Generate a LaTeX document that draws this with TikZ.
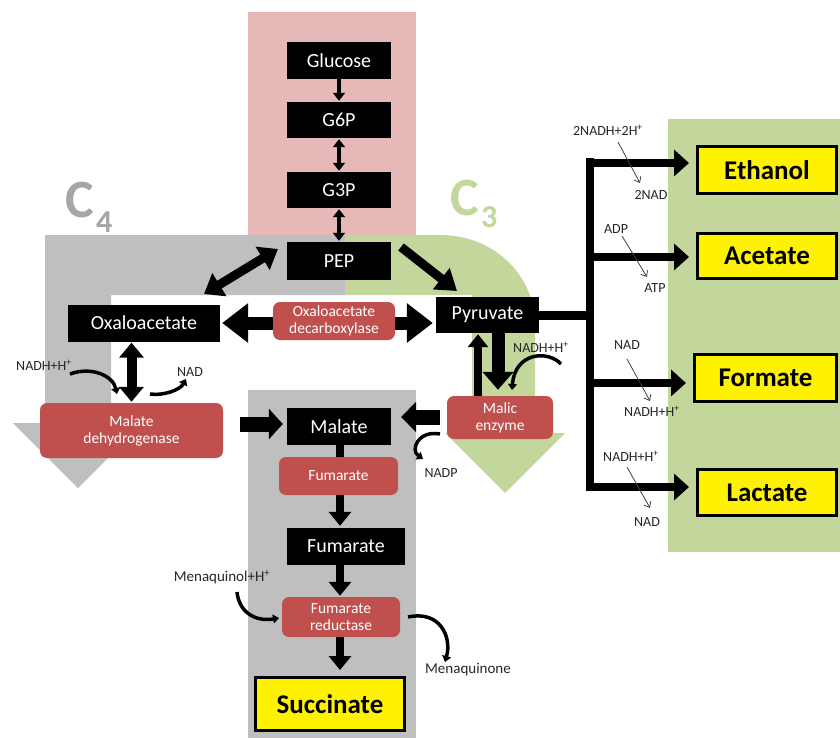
\documentclass[tikz,border=0pt]{standalone}
\usepackage{fontspec}
\setmainfont{Carlito}
\usetikzlibrary{arrows.meta,calc}
\definecolor{pinkbg}{HTML}{E6B9B8}
\definecolor{graybg}{HTML}{BFBFBF}
\definecolor{greenbg}{HTML}{C3D69B}
\definecolor{enzred}{HTML}{C0504D}
\definecolor{cfour}{HTML}{A6A6A6}
\definecolor{cofc}{HTML}{262626}
\definecolor{thinc}{HTML}{404040}
\newcommand\myfs[1]{\fontsize{#1}{#1}\selectfont}
\pgfdeclarelayer{bglayer}
\pgfdeclarelayer{arrlayer}
\pgfsetlayers{bglayer,arrlayer,main}
\begin{document}
\begin{tikzpicture}[x=1pt,y=-1pt,
  blk/.style={fill=black,text=white,font=\myfs{20},inner sep=0pt,minimum height=37pt},
  enz/.style={fill=enzred,text=white,rounded corners=7pt,font=\fontsize{15.5}{17}\selectfont,align=center,inner sep=0pt},
  prod/.style={fill=yellow,draw=black,line width=3pt,font=\bfseries\myfs{27},inner sep=0pt,minimum width=139pt,minimum height=47pt},
  cof/.style={font=\myfs{14},text=cofc,inner sep=0pt},
  thinarr/.style={draw=thinc,line width=0.8pt,-{Straight Barb[length=5pt,width=8pt]}},
  curv/.style={line width=3.5pt,-{Triangle[length=6pt,width=9pt]}},
  smarr/.style={line width=3.5pt},
  branch/.style={line width=8pt,-{Triangle[width=26pt,length=15pt]},shorten >=7pt},
  colarr/.style={line width=8pt,-{Triangle[width=22pt,length=14pt]}},
  bigc/.style={anchor=base west,inner sep=0pt,font=\bfseries\myfs{54}},
  bign/.style={anchor=base west,inner sep=0pt,font=\bfseries\myfs{32}}
]
\useasboundingbox (0,0) rectangle (840,738);

% ---------- backgrounds ----------
\begin{pgfonlayer}{bglayer}
\fill[pinkbg] (248,12) rectangle (416,235);
\fill[graybg] (45,235) -- (345,235) -- (345,295) -- (111,295) -- (111,423) -- (143,423) -- (78,488) -- (13,423) -- (45,423) -- cycle;
\fill[greenbg] (345,235) -- (440,235) .. controls (494,235) and (535,275) .. (535,325) -- (535,433) -- (565,433) -- (505,493) -- (445,433) -- (472,433) -- (472,295) -- (345,295) -- cycle;
\fill[graybg] (248,390) rectangle (416,738);
\fill[greenbg] (668,119) rectangle (840,552);
\node[bigc,text=cfour] (cfourC) at (65,217) {C};
\node[bign,text=cfour] (cfourN) at (96,232) {4};
\node[bigc,text=greenbg] (cthreeC) at (450,215) {C};
\node[bign,text=greenbg] (cthreeN) at (481,227) {3};
\end{pgfonlayer}

% ---------- nodes ----------
\node[blk,minimum width=104pt] (glc) at (339,60.5) {Glucose};
\node[blk,minimum width=104pt,minimum height=36pt] (g6p) at (339,120) {G6P};
\node[blk,minimum width=104pt,minimum height=36pt] (g3p) at (339,190) {G3P};
\node[blk,minimum width=104pt,minimum height=38pt] (pep) at (339,261) {PEP};
\node[blk,minimum width=152pt] (oaa) at (144,323) {Oxaloacetate};
\node[enz,minimum width=122pt,minimum height=38pt] (oad) at (334,321) {Oxaloacetate\\decarboxylase};
\node[blk,minimum width=103pt,minimum height=36pt] (pyr) at (487.5,315) {Pyruvate};
\node[enz,minimum width=183pt,minimum height=55pt] (mdh) at (131.5,430.5) {Malate\\dehydrogenase};
\node[blk,minimum width=104pt] (mal) at (339,426.5) {Malate};
\node[enz,minimum width=106pt,minimum height=43pt] (me) at (500,417.5) {Malic\\enzyme};
\node[enz,minimum width=119pt,minimum height=38pt] (fum1) at (338.5,476) {Fumarate};
\node[blk,minimum width=118pt] (fum2) at (346,546.5) {Fumarate};
\node[enz,minimum width=118pt,minimum height=40pt] (frd) at (341,617) {Fumarate\\reductase};
\node[prod,minimum width=149pt,minimum height=53pt] (suc) at (330,704) {Succinate};
\node[prod] (eth) at (767,170) {Ethanol};
\node[prod,minimum height=45pt] (ace) at (767,256) {Acetate};
\node[prod,minimum width=142pt] (form) at (765.5,378) {Formate};
\node[prod,minimum height=46pt] (lac) at (767,492.5) {Lactate};

% cofactor labels
\node[cof] (nadhL) at (44,365) {NADH+H\textsuperscript{+}};
\node[cof] (nadL) at (190,372) {NAD};
\node[cof] (nadhM) at (541,347) {NADH+H\textsuperscript{+}};
\node[cof] (nadp) at (441,473) {NADP};
\node[cof,font=\myfs{15}] (mqol) at (222,577) {Menaquinol+H\textsuperscript{+}};
\node[cof,font=\myfs{15}] (mqone) at (468,670) {Menaquinone};
\node[cof] (nadh2) at (608,130) {2NADH+2H\textsuperscript{+}};
\node[cof] (nad2) at (651,195) {2NAD};
\node[cof] (adp) at (616,229) {ADP};
\node[cof] (atp) at (655,288) {ATP};
\node[cof] (nadF) at (627,345) {NAD};
\node[cof] (nadhF) at (652,411) {NADH+H\textsuperscript{+}};
\node[cof] (nadhLa) at (631,456) {NADH+H\textsuperscript{+}};
\node[cof] (nadLa) at (647,522) {NAD};

% ---------- connectors ----------
\begin{pgfonlayer}{arrlayer}
\draw[smarr,-{Triangle[width=12pt,length=8pt]},shorten >=1pt] (glc.south) -- (g6p.north);
\draw[smarr,{Triangle[width=12pt,length=8pt]}-{Triangle[width=12pt,length=8pt]},shorten <=1pt,shorten >=1pt] (g6p.south) -- (g3p.north);
\draw[smarr,{Triangle[width=12pt,length=8pt]}-{Triangle[width=12pt,length=8pt]},shorten <=1pt,shorten >=1pt] (g3p.south) -- (pep.north);

\coordinate (pepA) at (278,249);
\coordinate (oaaA) at (204,294);
\draw[line width=9pt,{Triangle[width=26pt,length=18pt]}-{Triangle[width=26pt,length=18pt]}] (pepA) -- (oaaA);
\coordinate (pepB) at (401,247);
\coordinate (pyrB) at (457,291);
\draw[line width=9pt,-{Triangle[width=26pt,length=20pt]}] (pepB) -- (pyrB);

\draw[line width=13pt,{Triangle[width=38pt,length=26pt]}-{Triangle[width=38pt,length=26pt]},shorten <=2pt,shorten >=3pt] (oaa.east) -- (oaa.east -| pyr.west);

\draw[line width=10pt,{Triangle[width=24pt,length=15pt]}-{Triangle[width=24pt,length=15pt]},shorten <=1pt,shorten >=1pt] (mdh.north |- oaa.south) -- (mdh.north);

\coordinate (mdhR) at (240,424);
\draw[line width=15pt,-{Triangle[width=30pt,length=14pt]},shorten >=4pt] (mdhR) -- (mdhR -| mal.west);
\coordinate (meL) at (440,417);
\draw[line width=15pt,-{Triangle[width=30pt,length=15pt]},shorten >=10pt] (meL) -- (meL -| mal.east);

\coordinate (dnx) at (498,0);
\coordinate (upx) at (478,0);
\draw[line width=13pt,-{Triangle[width=30pt,length=18pt]},shorten >=6pt] (pyr.south -| dnx) -- (me.north -| dnx);
\draw[line width=8pt,-{Triangle[width=20pt,length=13pt]},shorten >=1pt] (me.north -| upx) -- (pyr.south -| upx);

\coordinate (colx) at (340,0);
\draw[colarr,shorten >=2pt] (mal.south -| colx) -- (fum2.north -| colx);
\draw[colarr,shorten >=1pt] (fum2.south -| colx) -- (frd.north -| colx);
\draw[colarr,shorten >=6pt] (frd.south -| colx) -- (suc.north -| colx);

% pyruvate branches
\coordinate (J) at (594,0);
\draw[line width=9pt] (pyr.east) -- (pyr.east -| J);
\coordinate (vt) at (590,158);
\coordinate (vb) at (590,491);
\draw[line width=8pt] (vt) -- (vb);
\coordinate (bE) at (586,163);
\coordinate (bA) at (586,257);
\coordinate (bF) at (586,383);
\coordinate (bL) at (586,487);
\draw[branch] (bE) -- (bE -| eth.west);
\draw[branch] (bA) -- (bA -| ace.west);
\draw[branch] (bF) -- (bF -| form.west);
\draw[branch] (bL) -- (bL -| lac.west);

% thin cofactor arrows
\coordinate (t1a) at (618,142); \coordinate (t1b) at (640,183);
\coordinate (t2a) at (622,236); \coordinate (t2b) at (647,277);
\coordinate (t3a) at (627,359); \coordinate (t3b) at (650,401);
\coordinate (t4a) at (627,467); \coordinate (t4b) at (650,508);
\draw[thinarr] (t1a) -- (t1b);
\draw[thinarr] (t2a) -- (t2b);
\draw[thinarr] (t3a) -- (t3b);
\draw[thinarr] (t4a) -- (t4b);

% curved cofactor arrows
\coordinate (c1a) at (70,374); \coordinate (c1b) at (117,394);
\draw[curv] (c1a) .. controls (92,366) and (113,376) .. (c1b);
\coordinate (c2a) at (150,394); \coordinate (c2b) at (186,379);
\draw[curv] (c2a) .. controls (163,396) and (180,390) .. (c2b);
\coordinate (c3a) at (561,364); \coordinate (c3b) at (512,390);
\draw[curv] (c3a) .. controls (548,350) and (515,352) .. (c3b);
\coordinate (c4a) at (440,434); \coordinate (c4b) at (423,459);
\draw[curv] (c4a) .. controls (418,430) and (410,450) .. (c4b);
\coordinate (c5a) at (237,592); \coordinate (c5b) at (279,618);
\draw[curv] (c5a) .. controls (239,612) and (255,622) .. (c5b);
\coordinate (c6a) at (408,617); \coordinate (c6b) at (445,662);
\draw[curv] (c6a) .. controls (440,610) and (452,637) .. (c6b);
\end{pgfonlayer}
\end{tikzpicture}
\end{document}
